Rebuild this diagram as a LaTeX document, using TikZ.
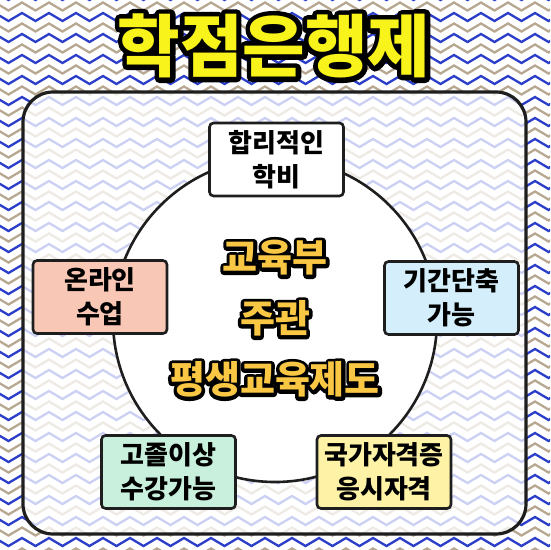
\documentclass[tikz,border=0pt]{standalone}
\usepackage{fontspec}
\newfontfamily\cjk{Noto Sans CJK KR}
\newcommand\strokeonly[2]{\special{pdf:literal direct 1 Tr #1 w 1 j 0 0 0 RG}#2\special{pdf:literal direct 0 Tr}}
\definecolor{zzblue}{HTML}{2B3EC9}
\definecolor{zztan}{HTML}{B8A892}
\definecolor{titleyellow}{HTML}{F8F31A}
\definecolor{midyellow}{HTML}{F9C744}
\definecolor{boxblue}{HTML}{D5EEFB}
\definecolor{boxyellow}{HTML}{FDF2A6}
\definecolor{boxgreen}{HTML}{C9F0DD}
\definecolor{boxpink}{HTML}{F9C7B6}
\definecolor{edge}{HTML}{1E1E1E}
\begin{document}
\begin{tikzpicture}[x=1pt,y=-1pt,
  infobox/.style={draw=edge, line width=2.6, rounded corners=4, minimum width=134, minimum height=73, inner sep=0, align=center, font=\cjk\bfseries\fontsize{26}{34}\selectfont, text=black},
  titlefont/.style={font=\cjk\bfseries\fontsize{68}{74}\selectfont, inner sep=0},
  midfont/.style={font=\cjk\bfseries\fontsize{38}{61}\selectfont, align=center, inner sep=0}]
\useasboundingbox (0,0) rectangle (550,550);
\fill[white] (0,0) rectangle (550,550);
\begin{scope}
\clip (0,0) rectangle (550,550);
\foreach \k in {0,...,27} {
  \draw[zzblue, line width=2.3, line join=miter] (-5,{\k*21-8}) \foreach \i in {1,...,22}{ -- ++(13.5,8) -- ++(13.5,-8)};
  \draw[zztan, line width=2.3, line join=miter] (-5,{\k*21+2.5}) \foreach \i in {1,...,22}{ -- ++(13.5,8) -- ++(13.5,-8)};
}
\end{scope}
\draw[draw=edge, line width=3.2, fill=white, fill opacity=0.76, draw opacity=1, rounded corners=30] (23,92) rectangle (526,534);
\node[circle, draw=edge, line width=2.6, fill=white, minimum size=324, inner sep=0] (circ) at (275,320) {};
\node[titlefont, text=black] (titleol) at (274,46) {\strokeonly{10}{학점은행제}};
\node[titlefont, text=titleyellow] (title) at (274,46) {학점은행제};
\node[midfont, text=black] (centerol) at (275,319) {\strokeonly{7}{교육부}\\\strokeonly{7}{주관}\\\strokeonly{7}{평생교육제도}};
\node[midfont, text=midyellow] (center) at (275,319) {교육부\\주관\\평생교육제도};
\node[infobox, fill=white] (top) at (276.5,159.5) {합리적인\\학비};
\node[infobox, fill=boxblue] (right) at (451.5,298) {기간단축\\가능};
\node[infobox, fill=boxyellow] (br) at (384,472) {국가자격증\\응시자격};
\node[infobox, fill=boxgreen] (bl) at (168.5,472) {고졸이상\\수강가능};
\node[infobox, fill=boxpink] (left) at (100,297) {온라인\\수업};
\end{tikzpicture}
\end{document}
